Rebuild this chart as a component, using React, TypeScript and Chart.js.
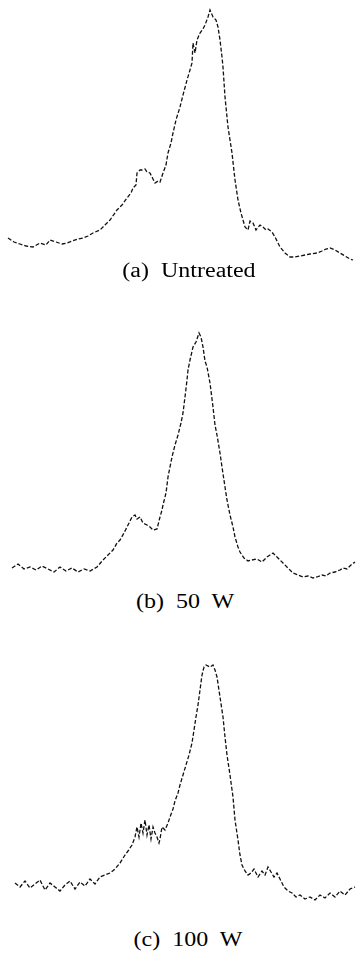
import React, { useEffect, useRef } from "react";
import { Chart, registerables } from "chart.js";

Chart.register(...registerables);

// Horizontal position (arbitrary channel units, 0-358) and intensity (arb. units)
const xA = [8, 14, 20, 26, 33, 40, 46, 50, 56, 62, 67, 72, 78, 83, 88, 93, 100, 105, 110, 117, 122, 127, 131, 133, 136, 137, 140, 142, 145, 147, 150, 153, 155, 158, 160, 163, 166, 168, 171, 173, 176, 180, 183, 187, 190, 192, 193, 195, 197, 200, 203, 205, 208, 210, 213, 216, 218, 220, 222, 223, 225, 228, 232, 235, 238, 241, 243, 245, 248, 250, 253, 256, 260, 263, 266, 268, 272, 275, 278, 280, 285, 290, 295, 300, 305, 310, 317, 322, 326, 330, 335, 340, 345, 350, 353];
const yA = [27, 23, 21, 19, 18, 22, 20, 25, 23, 21, 22, 24, 26, 27, 29, 32, 35, 40, 45, 55, 60, 67, 72, 77, 80, 92, 95, 95, 96, 93, 92, 86, 82, 84, 83, 92, 100, 112, 122, 132, 145, 158, 170, 185, 195, 202, 222, 212, 225, 232, 236, 240, 248, 255, 248, 245, 238, 225, 208, 198, 168, 138, 112, 85, 65, 52, 45, 38, 35, 44, 42, 35, 40, 38, 35, 36, 33, 28, 22, 18, 12, 8, 8, 9, 10, 11, 12, 14, 16, 17, 15, 12, 9, 6, 5];

const xB = [12, 18, 24, 30, 36, 42, 48, 54, 60, 66, 72, 78, 84, 90, 97, 103, 108, 113, 117, 120, 124, 127, 130, 132, 135, 137, 140, 143, 147, 150, 153, 157, 159, 160, 162, 163, 166, 168, 170, 172, 175, 178, 181, 183, 185, 187, 188, 190, 193, 196, 199, 201, 203, 205, 207, 210, 213, 215, 217, 220, 222, 225, 227, 230, 233, 235, 238, 240, 244, 248, 252, 257, 262, 267, 270, 273, 277, 280, 283, 288, 293, 298, 303, 308, 313, 317, 322, 326, 330, 335, 340, 343, 347, 351, 355];
const yB = [17, 21, 16, 18, 15, 19, 16, 13, 18, 14, 17, 13, 16, 14, 18, 25, 30, 35, 42, 45, 52, 58, 64, 68, 70, 66, 68, 62, 60, 58, 55, 56, 64, 68, 75, 80, 92, 108, 118, 128, 140, 150, 162, 172, 188, 205, 215, 225, 238, 243, 252, 248, 238, 224, 218, 202, 178, 160, 150, 132, 118, 98, 85, 70, 58, 48, 38, 33, 27, 24, 25, 26, 23, 28, 30, 32, 28, 25, 22, 17, 12, 10, 8, 9, 7, 8, 10, 9, 12, 13, 15, 17, 16, 20, 23];

const xC = [15, 20, 25, 30, 35, 40, 45, 50, 55, 60, 65, 70, 75, 80, 85, 90, 95, 100, 105, 110, 115, 120, 125, 128, 132, 135, 137, 139, 141, 143, 145, 147, 149, 151, 153, 155, 157, 159, 160, 162, 165, 168, 170, 173, 175, 178, 180, 183, 186, 189, 192, 194, 196, 198, 200, 202, 204, 206, 210, 213, 215, 217, 220, 223, 225, 227, 230, 233, 235, 238, 240, 242, 245, 248, 251, 254, 258, 262, 265, 268, 271, 274, 277, 280, 284, 288, 292, 296, 300, 305, 310, 315, 320, 325, 330, 335, 340, 345, 350, 355];
const yC = [32, 28, 34, 27, 31, 35, 25, 32, 28, 24, 30, 34, 26, 33, 29, 36, 31, 38, 40, 42, 46, 52, 60, 64, 70, 78, 88, 78, 92, 82, 95, 80, 90, 76, 88, 82, 78, 72, 76, 88, 85, 92, 98, 106, 114, 122, 130, 140, 150, 160, 172, 185, 198, 210, 225, 240, 248, 250, 248, 250, 245, 238, 218, 198, 178, 160, 140, 118, 95, 75, 60, 50, 44, 40, 42, 46, 38, 44, 40, 48, 43, 38, 42, 36, 28, 24, 22, 18, 20, 16, 18, 15, 20, 17, 22, 18, 24, 20, 26, 28];

const captions = ["(a)  Untreated", "(b)  50  W", "(c)  100  W"];

const PANEL_H = 265;
const panelTops = [0, 320, 650];
const captionCenters = [270, 601, 939];
const captionCentersX = [189, 185, 188];

function Spectrum({ xs, ys }: { xs: number[]; ys: number[] }) {
  const ref = useRef<HTMLCanvasElement | null>(null);
  useEffect(() => {
    if (!ref.current) return;
    const chart = new Chart(ref.current, {
      type: "line",
      data: {
        datasets: [
          {
            data: xs.map((x, i) => ({ x, y: ys[i] })),
            borderColor: "#111",
            borderWidth: 1.3,
            borderDash: [4, 2],
            pointRadius: 0,
            tension: 0,
            fill: false,
          },
        ],
      },
      options: {
        animation: false,
        responsive: false,
        maintainAspectRatio: false,
        layout: { padding: 0 },
        plugins: { legend: { display: false }, tooltip: { enabled: false }, title: { display: false } },
        scales: {
          x: { type: "linear", min: 0, max: 358, display: false },
          y: { type: "linear", min: 0, max: PANEL_H, display: false },
        },
        elements: { line: { borderCapStyle: "butt" } },
      },
    });
    return () => chart.destroy();
  }, [xs, ys]);
  return <canvas ref={ref} width={358} height={PANEL_H} style={{ display: "block", width: 358, height: PANEL_H }} />;
}

export default function App() {
  const series = [
    { xs: xA, ys: yA },
    { xs: xB, ys: yB },
    { xs: xC, ys: yC },
  ];
  return (
    <div style={{ position: "absolute", left: 0, top: 0, width: 358, height: 957, background: "#fff", overflow: "hidden" }}>
      {series.map((s, i) => (
        <div key={i} style={{ position: "absolute", left: 0, top: panelTops[i], width: 358, height: PANEL_H }}>
          <Spectrum xs={s.xs} ys={s.ys} />
        </div>
      ))}
      {captions.map((c, i) => (
        <div
          key={"c" + i}
          style={{
            position: "absolute",
            left: captionCentersX[i] - 100,
            width: 200,
            top: captionCenters[i] - 12,
            height: 24,
            textAlign: "center",
            fontFamily: "'Liberation Serif', 'DejaVu Serif', serif",
            fontSize: 20,
            lineHeight: "24px",
            color: "#000",
            whiteSpace: "pre",
            transform: "scaleX(1.2)",
            transformOrigin: "center center",
          }}
        >
          {c}
        </div>
      ))}
    </div>
  );
}
